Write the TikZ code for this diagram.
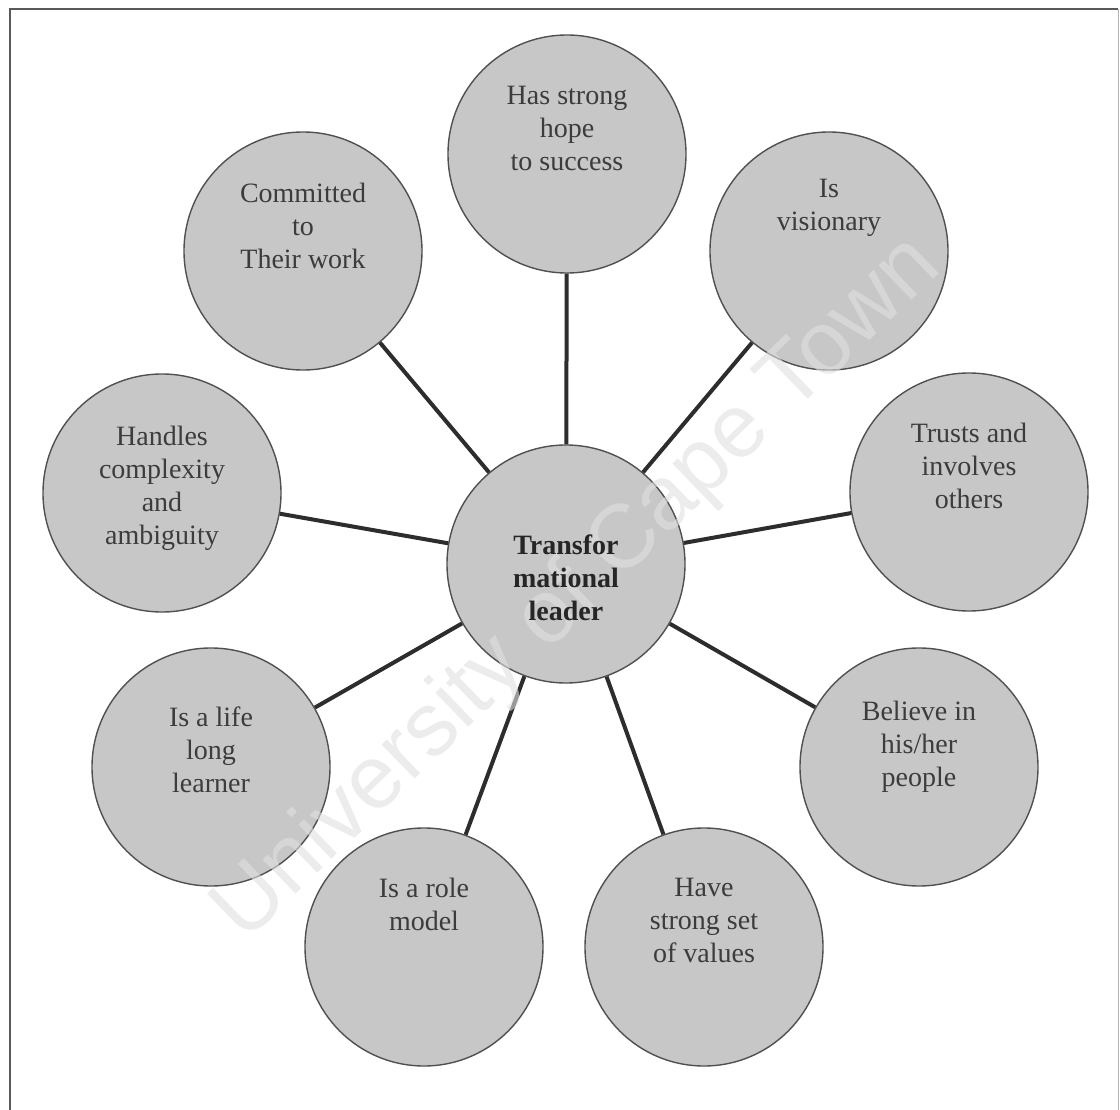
\documentclass[tikz,border=0pt]{standalone}
\usepackage{fontspec}
\setmainfont{Liberation Serif}
\setsansfont{Liberation Sans}
\usetikzlibrary{calc}
\definecolor{bubble}{RGB}{199,199,199}
\definecolor{rim}{RGB}{80,80,80}
\definecolor{spoke}{RGB}{45,45,45}
\definecolor{ink}{RGB}{60,60,60}
\definecolor{wmark}{RGB}{224,224,224}
\tikzset{
  bubble/.style={circle, draw=rim, line width=1.4pt, fill=bubble,
                 minimum size=238pt, inner sep=0pt},
  caption/.style={anchor=north, align=center, inner sep=0pt, text=ink,
                  font=\fontsize{28}{33}\selectfont},
  hubcaption/.style={caption, text=black!85,
                  font=\fontsize{28}{33}\selectfont\bfseries},
  spokeline/.style={draw=spoke, line width=4pt},
  frameline/.style={line width=2.2pt, draw=black!65},
}
\begin{document}
\begin{tikzpicture}[x=1pt,y=-1pt]
  \path[use as bounding box] (0,0) rectangle (1120,1110);

  % outer frame (open at the bottom)
  \coordinate (fbl) at (10,1110);
  \coordinate (ftl) at (10,9);
  \coordinate (ftr) at (1118,9);
  \coordinate (fbr) at (1118,1110);
  \draw[frameline] (fbl) -- (ftl) -- (ftr);
  \draw[line width=1pt, draw=black!30] (ftr) -- (fbr);

  % circles
  \node[bubble] (hub)     at (566,564) {};
  \node[bubble] (hope)    at (567,154) {};
  \node[bubble] (commit)  at (303,251) {};
  \node[bubble] (vision)  at (829,251) {};
  \node[bubble] (handles) at (162,493) {};
  \node[bubble] (trusts)  at (969,492) {};
  \node[bubble] (life)    at (211,767) {};
  \node[bubble] (believe) at (919,767) {};
  \node[bubble] (role)    at (424,947) {};
  \node[bubble] (values)  at (704,947) {};

  % spokes from the hub
  \foreach \n in {hope,commit,vision,handles,trusts,life,believe,role,values}
    \draw[spokeline] (hub) -- (\n);

  % repository watermark, kept under the captions
  \node[text=wmark, opacity=0.6, rotate=44, inner sep=0pt,
        font=\sffamily\fontsize{90}{90}\selectfont] (wm) at (578,590)
        {University of Cape Town};

  % captions
  \node[hubcaption] (thub)     at ($(hub)+(0,-29)$)     {Transfor\\mational\\leader};
  \node[caption]    (thope)    at ($(hope)+(0,-68)$)    {Has strong\\hope\\to success};
  \node[caption]    (tcommit)  at ($(commit)+(0,-68)$)  {Committed\\to\\Their work};
  \node[caption]    (tvision)  at ($(vision)+(0,-72)$)  {Is\\visionary};
  \node[caption]    (thandles) at ($(handles)+(0,-67)$) {Handles\\complexity\\and\\ambiguity};
  \node[caption]    (ttrusts)  at ($(trusts)+(0,-69)$)  {Trusts and\\involves\\others};
  \node[caption]    (tlife)    at ($(life)+(0,-60)$)    {Is a life\\long\\learner};
  \node[caption]    (tbelieve) at ($(believe)+(0,-66)$) {Believe in\\his/her\\people};
  \node[caption]    (trole)    at ($(role)+(0,-69)$)    {Is a role\\model};
  \node[caption]    (tvalues)  at ($(values)+(0,-69)$)  {Have\\strong set\\of values};
\end{tikzpicture}
\end{document}
